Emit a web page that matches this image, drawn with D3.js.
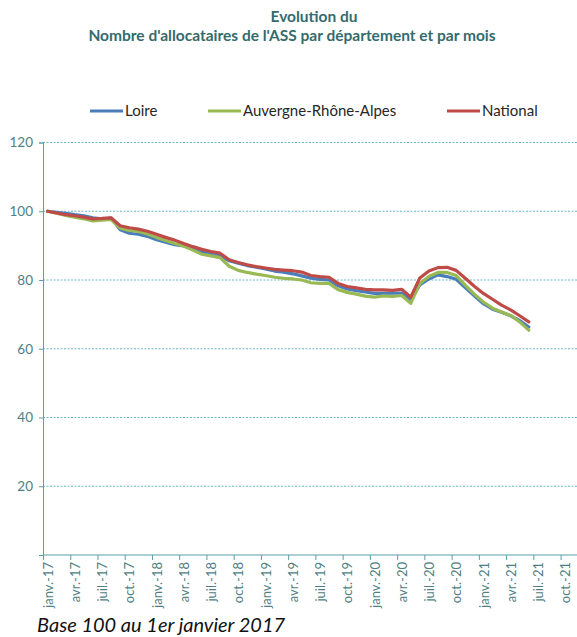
<!DOCTYPE html>
<html>
<head>
<meta charset="utf-8">
<script src="https://cdn.jsdelivr.net/npm/d3@7"></script>
<style>
  body { margin: 0; background: #fff; }
  svg { display: block; }
</style>
</head>
<body>
<svg id="chart"></svg>
<script>
// Monthly index, base 100 in January 2017 (janv.-17 .. juin-21)
const loire = [100, 99.7, 99.4, 99.0, 98.7, 98.1, 97.8, 98.0, 94.6, 93.6, 93.3, 92.7,
  91.7, 91.0, 90.3, 89.9, 89.0, 88.1, 87.5, 87.0, 85.6, 84.9, 84.2, 83.7,
  83.2, 82.6, 82.3, 81.8, 81.2, 80.5, 80.2, 80.0, 78.3, 77.4, 76.9, 76.5,
  76.1, 76.1, 76.2, 76.2, 74.2, 78.6, 80.3, 81.5, 81.0, 80.2, 77.8, 75.4,
  73.1, 71.5, 70.6, 69.6, 68.2, 66.3];
const auvergne = [100, 99.4, 98.8, 98.3, 97.8, 97.2, 97.4, 97.6, 95.1, 94.4, 94.1, 93.4,
  92.4, 91.5, 90.6, 89.9, 88.7, 87.5, 87.0, 86.5, 84.0, 82.8, 82.2, 81.7,
  81.3, 80.8, 80.5, 80.3, 80.0, 79.2, 79.0, 79.0, 77.2, 76.4, 75.9, 75.3,
  75.0, 75.4, 75.2, 75.5, 73.2, 79.0, 81.0, 82.2, 82.2, 81.3, 78.5, 75.9,
  73.6, 71.8, 70.7, 69.7, 67.8, 65.4];
const national = [100, 99.5, 99.0, 98.7, 98.3, 97.8, 97.9, 98.1, 95.8, 95.2, 94.8, 94.2,
  93.3, 92.4, 91.6, 90.6, 89.7, 88.9, 88.3, 87.8, 85.9, 85.1, 84.4, 83.9,
  83.5, 83.1, 82.9, 82.7, 82.3, 81.3, 81.0, 80.8, 79.0, 78.1, 77.7, 77.3,
  77.1, 77.1, 77.0, 77.3, 75.0, 80.6, 82.6, 83.6, 83.7, 82.8, 80.5, 78.2,
  76.1, 74.4, 72.7, 71.3, 69.6, 67.8];

const seriesNames = ["Loire", "Auvergne-Rhône-Alpes", "National"];
const seriesColors = ["#4a7ebb", "#98b954", "#be4b48"];
const yTicks = [0, 20, 40, 60, 80, 100, 120];
const xTickLabels = ["janv.-17", "avr.-17", "juil.-17", "oct.-17",
  "janv.-18", "avr.-18", "juil.-18", "oct.-18",
  "janv.-19", "avr.-19", "juil.-19", "oct.-19",
  "janv.-20", "avr.-20", "juil.-20", "oct.-20",
  "janv.-21", "avr.-21", "juil.-21", "oct.-21"];

const width = 577, height = 637;
const svg = d3.select("#chart").attr("width", width).attr("height", height);

const axisColor = "#5a9fa6";
const labelColor = "#4f7f84";
const gridColor = "#6cb6c4";
const font = "Lato, 'Open Sans', sans-serif";

// months since janv.-17 on x, one month per bin
const x = d3.scaleLinear().domain([0, 60]).range([43, 43 + 60 * 9.08]);
const y = d3.scaleLinear().domain([0, 120]).range([555, 142.5]);

// Title
const title = svg.append("g")
  .attr("font-family", font)
  .attr("font-weight", "bold")
  .attr("fill", "#336b6e")
  .attr("text-anchor", "middle")
  .attr("font-size", 15.5);
title.append("text").attr("x", 314).attr("y", 22).text("Evolution du");
title.append("text").attr("x", 292).attr("y", 41)
  .text("Nombre d'allocataires de l'ASS par département et par mois");

// Gridlines
svg.append("g")
  .selectAll("line")
  .data(yTicks.filter(d => d > 0))
  .join("line")
  .attr("x1", x(0)).attr("x2", width)
  .attr("y1", d => y(d)).attr("y2", d => y(d))
  .attr("stroke", gridColor)
  .attr("stroke-width", 1)
  .attr("stroke-dasharray", "2,1.5");

// Y axis
const yAxis = d3.axisLeft(y).tickValues(yTicks).tickSize(4).tickPadding(6);
const gy = svg.append("g").attr("transform", `translate(${x(0)},0)`).call(yAxis);
gy.select(".domain").attr("stroke", axisColor);
gy.selectAll(".tick line").attr("stroke", axisColor);
gy.selectAll(".tick text")
  .attr("fill", labelColor)
  .attr("font-family", font)
  .attr("font-size", 13.5)
  .text(d => d === 0 ? "" : d);

// X axis
const xTickValues = xTickLabels.map((d, i) => i * 3);
const xAxis = d3.axisBottom(x).tickValues(xTickValues).tickSize(5).tickFormat((d, i) => xTickLabels[i]);
const gx = svg.append("g").attr("transform", `translate(0,${y(0)})`).call(xAxis);
gx.select(".domain").attr("stroke", axisColor).attr("d", `M${x(0)},0H${width}`);
gx.selectAll(".tick line").attr("stroke", axisColor);
gx.selectAll(".tick text")
  .attr("fill", labelColor)
  .attr("font-family", font)
  .attr("font-size", 13)
  .attr("text-anchor", "end")
  .attr("transform", "translate(4.6,0) rotate(-90)")
  .attr("x", -7)
  .attr("y", 0)
  .attr("dy", "0.35em");

// Lines, points at the middle of each month bin
const line = d3.line()
  .x((d, i) => x(i + 0.5))
  .y(d => y(d));

[loire, auvergne, national].forEach((values, k) => {
  svg.append("path")
    .datum(values)
    .attr("fill", "none")
    .attr("stroke", seriesColors[k])
    .attr("stroke-width", 3.2)
    .attr("stroke-linejoin", "round")
    .attr("stroke-linecap", "round")
    .attr("d", line);
});

// Legend
const legendX = [90, 208, 447];
const legend = svg.append("g")
  .attr("font-family", font)
  .attr("font-size", 15)
  .attr("fill", "#262626");
seriesNames.forEach((name, k) => {
  legend.append("line")
    .attr("x1", legendX[k]).attr("x2", legendX[k] + 33)
    .attr("y1", 111).attr("y2", 111)
    .attr("stroke", seriesColors[k])
    .attr("stroke-width", 3);
  legend.append("text")
    .attr("x", legendX[k] + 35).attr("y", 116)
    .text(name);
});

// Note
svg.append("text")
  .attr("x", 37).attr("y", 632)
  .attr("font-family", font)
  .attr("font-style", "italic")
  .attr("font-size", 20)
  .attr("fill", "#111")
  .text("Base 100 au 1er janvier 2017");
</script>
</body>
</html>
